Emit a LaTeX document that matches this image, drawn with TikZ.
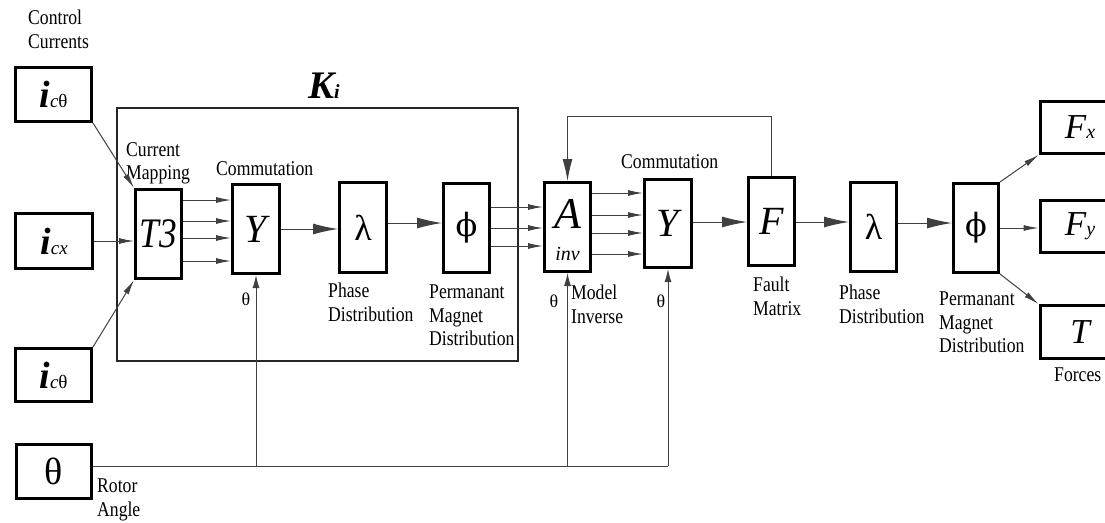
\documentclass[tikz,border=0pt]{standalone}
\usepackage{fontspec}
\setmainfont{Liberation Serif}
\newfontfamily\lbl[FakeStretch=0.84]{Liberation Serif}
\newfontfamily\dvs{DejaVu Serif}
\usetikzlibrary{arrows.meta,calc}
\begin{document}
\begin{tikzpicture}[x=1pt,y=-1pt,
  blk/.style={draw=black,line width=3pt,inner sep=0pt,fill=white},
  wire/.style={draw=black!75,line width=1pt},
  sa/.style={wire,-{Latex[length=15pt,width=6pt]}},
  ba/.style={wire,-{Latex[length=25pt,width=11pt]}},
  fa/.style={wire,-{Latex[length=22pt,width=10pt]}},
  ta/.style={wire,-{Latex[length=13pt,width=7pt]}},
  lab/.style={anchor=north west,inner sep=0pt,align=left,font=\lbl\fontsize{21}{23.5}\selectfont},
  sym/.style={font=\fontsize{40}{40}\selectfont\itshape},
  th/.style={inner sep=0pt,font=\fontsize{18}{18}\selectfont},
]
\useasboundingbox (0,0) rectangle (1105,522);
\clip (0,0) rectangle (1105,522);
% K_i box
\node[draw=black!85,line width=1.2pt,minimum width=401pt,minimum height=253pt,inner sep=0pt] (Ki) at (317.5,234.5) {};
\node[inner sep=0pt,font=\fontsize{39}{39}\selectfont\bfseries\itshape] (Kilab) at (324,86) {K\fontsize{20}{20}\selectfont i};
% inputs
\node[blk,minimum width=76pt,minimum height=54pt] (ic1) at (53.5,94.5) {\fontsize{38}{38}\selectfont\bfseries\itshape i\mdseries\fontsize{19}{19}\selectfont c\upshape θ};
\node[blk,minimum width=77pt,minimum height=55pt] (icx) at (54,241) {\fontsize{38}{38}\selectfont\bfseries\itshape i\mdseries\fontsize{19}{19}\selectfont cx};
\node[blk,minimum width=76pt,minimum height=53pt] (ic2) at (53.5,375) {\fontsize{38}{38}\selectfont\bfseries\itshape i\mdseries\fontsize{19}{19}\selectfont c\upshape θ};
\node[blk,minimum width=75pt,minimum height=54pt,font=\fontsize{38}{38}\selectfont] (th) at (54,471.5) {θ};
% chain
\node[blk,minimum width=46pt,minimum height=89pt,font=\lbl\fontsize{42}{42}\selectfont\itshape] (T3) at (158.5,234) {T3};
\node[blk,minimum width=47pt,minimum height=89pt,sym] (Y1) at (256,229) {Y};
\node[blk,minimum width=47pt,minimum height=90pt,font=\fontsize{36}{36}\selectfont] (L1) at (363,227.5) {λ};
\node[blk,minimum width=46pt,minimum height=89pt,font=\dvs\fontsize{32}{32}\selectfont] (P1) at (466.5,228) {ϕ};
\node[blk,minimum width=46pt,minimum height=89pt] (A) at (567.5,227) {};
\node[inner sep=0pt,font=\fontsize{44}{44}\selectfont\itshape] (Alab) at (567.5,214) {A};
\node[inner sep=0pt,font=\fontsize{20}{20}\selectfont\itshape] (Ainv) at (567.5,254) {inv};
\node[blk,minimum width=47pt,minimum height=88pt,sym] (Y2) at (668,223.5) {Y};
\node[blk,minimum width=46pt,minimum height=88pt,sym] (F) at (771.5,221.5) {F};
\node[blk,minimum width=46pt,minimum height=89pt,font=\fontsize{36}{36}\selectfont] (L2) at (873.5,227) {λ};
\node[blk,minimum width=45pt,minimum height=89pt,font=\dvs\fontsize{32}{32}\selectfont] (P2) at (976,228) {ϕ};
% outputs
\node[blk,minimum width=80pt,minimum height=52pt] (Fx) at (1080,127.5) {\fontsize{35}{35}\selectfont\itshape F\fontsize{20}{20}\selectfont x};
\node[blk,minimum width=80pt,minimum height=52pt] (Fy) at (1080,226.5) {\fontsize{35}{35}\selectfont\itshape F\fontsize{20}{20}\selectfont y};
\node[blk,minimum width=80pt,minimum height=53pt] (T) at (1080,332) {\fontsize{35}{35}\selectfont\itshape T};
% labels
\node[lab] (lcc) at (28,10) {Control\\Currents};
\node[lab] (lcm) at (126,142) {Current\\Mapping};
\node[lab] (lcom1) at (216,161) {Commutation};
\node[lab] (lpd1) at (328,283) {Phase\\Distribution};
\node[lab] (lpm1) at (429,285) {Permanant\\Magnet\\Distribution};
\node[lab] (lmi) at (571,285) {Model\\Inverse};
\node[lab] (lcom2) at (621,154) {Commutation};
\node[lab] (lfm) at (753,277) {Fault\\Matrix};
\node[lab] (lpd2) at (839,285) {Phase\\Distribution};
\node[lab] (lpm2) at (939,292) {Permanant\\Magnet\\Distribution};
\node[lab] (lfo) at (1054,368) {Forces};
\node[lab] (lra) at (97,479) {Rotor\\Angle};
\node[th] (th1) at (246,299) {θ};
\node[th] (th2) at (554,301) {θ};
\node[th] (th3) at (661,301) {θ};
% connectors
\draw[sa] (icx.east) -- (icx.east -| T3.west);
\draw[sa] (ic1.south east) -- (T3.north west);
\draw[sa] (ic2.north east) -- (T3.south west);
\foreach \y in {200,221,238,261} \draw[sa] (T3.east |- 0,\y) -- (Y1.west |- 0,\y);
\draw[ba] (Y1.east |- 0,229) -- (L1.west |- 0,229);
\draw[ba] (L1.east |- 0,223) -- (P1.west |- 0,223);
\foreach \y in {207,228,246} \draw[sa] (P1.east |- 0,\y) -- (A.west |- 0,\y);
\foreach \y in {193,215,233,254} \draw[sa] (A.east |- 0,\y) -- (Y2.west |- 0,\y);
\draw[ba] (Y2.east |- 0,222) -- (F.west |- 0,222);
\draw[ba] (F.east |- 0,222) -- (L2.west |- 0,222);
\draw[ba] (L2.east |- 0,223) -- (P2.west |- 0,223);
\draw[sa] (P2.north east) -- (Fx.south west);
\draw[sa] (P2.east |- 0,228) -- (Fy.west |- 0,228);
\draw[sa] (P2.south east) -- (T.north west);
\coordinate (fb) at (0,116);
\draw[fa] (F.north) |- (fb -| A.north) -- (A.north);
\coordinate (rl) at (0,466);
\draw[wire] (th.east |- rl) -- (Y2.south |- rl);
\draw[ta] (Y1.south |- rl) -- (Y1.south);
\draw[ta] (A.south |- rl) -- (A.south);
\draw[ta] (Y2.south |- rl) -- (Y2.south);
\end{tikzpicture}
\end{document}
